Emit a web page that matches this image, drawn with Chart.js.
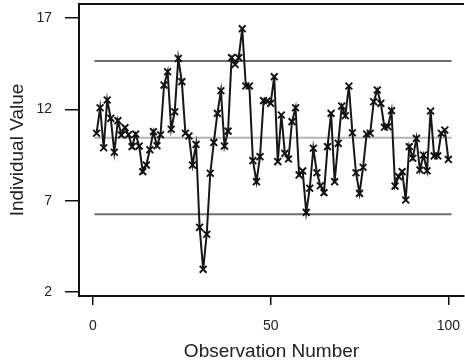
<!DOCTYPE html>
<html>
<head>
<meta charset="utf-8">
<script src="https://cdn.jsdelivr.net/npm/chart.js@4.4.1/dist/chart.umd.min.js"></script>
<style>
html,body{margin:0;padding:0;background:#fff;}
#wrap{width:465px;height:363px;position:relative;}
</style>
</head>
<body>
<div id="wrap"><canvas id="c" width="465" height="363"></canvas></div>
<script>
const observations = Array.from({length: 100}, (_, i) => i + 1);
const values = [
  10.69, 12.09, 9.90, 12.51, 11.51, 9.65, 11.38, 10.60, 11.00, 10.61,
  9.96, 10.65, 9.99, 8.59, 8.95, 9.79, 10.78, 10.01, 10.61, 13.33,
  14.06, 10.91, 11.87, 14.79, 13.52, 10.69, 10.54, 8.95, 10.08, 5.54,
  3.24, 5.16, 8.50, 10.19, 11.78, 13.02, 9.99, 10.81, 14.83, 14.46,
  14.83, 16.42, 13.28, 13.28, 9.19, 8.04, 9.41, 12.48, 12.46, 12.33,
  13.79, 9.14, 11.69, 9.59, 9.28, 11.33, 12.09, 8.41, 8.63, 6.36,
  7.68, 9.87, 8.53, 7.82, 7.44, 9.96, 11.78, 8.04, 10.14, 12.18,
  11.65, 13.28, 10.72, 8.53, 7.40, 8.83, 10.65, 10.69, 12.42, 13.06,
  12.33, 11.02, 11.05, 11.93, 7.80, 8.32, 8.59, 7.04, 9.96, 9.32,
  10.41, 8.68, 9.50, 8.64, 11.91, 9.45, 9.45, 10.69, 10.87, 9.26
];
const limitNames = ['UCL', 'Center', 'LCL'];
const limitValues = [14.65, 10.45, 6.26];
const limitSpan = [0.4, 100.9];
const xTicks = [0, 50, 100];
const yTicks = [2, 7, 12, 17];

const boxPlugin = {
  id: 'box',
  afterDraw(chart) {
    const {ctx, chartArea: a} = chart;
    ctx.save();
    ctx.strokeStyle = '#111';
    ctx.lineWidth = 2;
    ctx.beginPath();
    ctx.moveTo(a.left, a.top);
    ctx.lineTo(a.right, a.top);
    ctx.stroke();
    ctx.restore();
  }
};

const limitColors = ['#6e6e6e', '#b4b4b4', '#6e6e6e'];
const datasets = [{
  label: 'Individual Value',
  data: observations.map((x, i) => ({x, y: values[i]})),
  showLine: true,
  borderColor: '#161616',
  borderWidth: 2,
  pointStyle: 'crossRot',
  pointRadius: 4.8,
  pointBorderWidth: 1.9,
  pointBorderColor: '#111',
  pointBackgroundColor: '#111',
  order: 0
}];
limitValues.forEach((v, k) => {
  datasets.push({
    label: limitNames[k],
    data: limitSpan.map(x => ({x, y: v})),
    showLine: true,
    borderColor: limitColors[k],
    borderWidth: 2,
    pointRadius: 0,
    order: 1
  });
});

Chart.defaults.font.family = '"Liberation Sans", Arial, sans-serif';
Chart.defaults.color = '#222';

new Chart(document.getElementById('c'), {
  type: 'scatter',
  data: {datasets},
  options: {
    responsive: false,
    animation: false,
    events: [],
    layout: {autoPadding: false, padding: {top: 4, right: 1, left: 0, bottom: 0}},
    plugins: {legend: {display: false}, tooltip: {enabled: false}},
    scales: {
      x: {
        type: 'linear',
        min: -3.94,
        max: 104.4,
        afterFit(s) { s.height = 67; s.paddingLeft = 0; s.paddingRight = 0; s.paddingTop = 0; s.paddingBottom = 0; },
        afterBuildTicks(s) { s.ticks = xTicks.map(v => ({value: v})); },
        grid: {drawOnChartArea: false, drawTicks: true, tickLength: 9, color: '#111', lineWidth: 1.5},
        border: {display: true, color: '#111', width: 2},
        ticks: {font: {size: 14}, padding: 13, maxRotation: 0, color: '#222'},
        title: {display: true, text: 'Observation Number', font: {size: 19}, color: '#222', padding: {top: 0, bottom: 0}}
      },
      y: {
        type: 'linear',
        min: 1.78,
        max: 17.77,
        afterFit(s) { s.width = 79; s.paddingLeft = 0; s.paddingRight = 0; s.paddingTop = 0; s.paddingBottom = 0; },
        afterBuildTicks(s) { s.ticks = yTicks.map(v => ({value: v})); },
        grid: {drawOnChartArea: false, drawTicks: true, tickLength: 14, color: '#111', lineWidth: 1.5},
        border: {display: true, color: '#111', width: 2},
        ticks: {font: {size: 14}, padding: 13, color: '#222'},
        title: {display: true, text: 'Individual Value', font: {size: 19}, color: '#222', padding: {top: 6, bottom: 0}}
      }
    }
  },
  plugins: [boxPlugin]
});
</script>
</body>
</html>
